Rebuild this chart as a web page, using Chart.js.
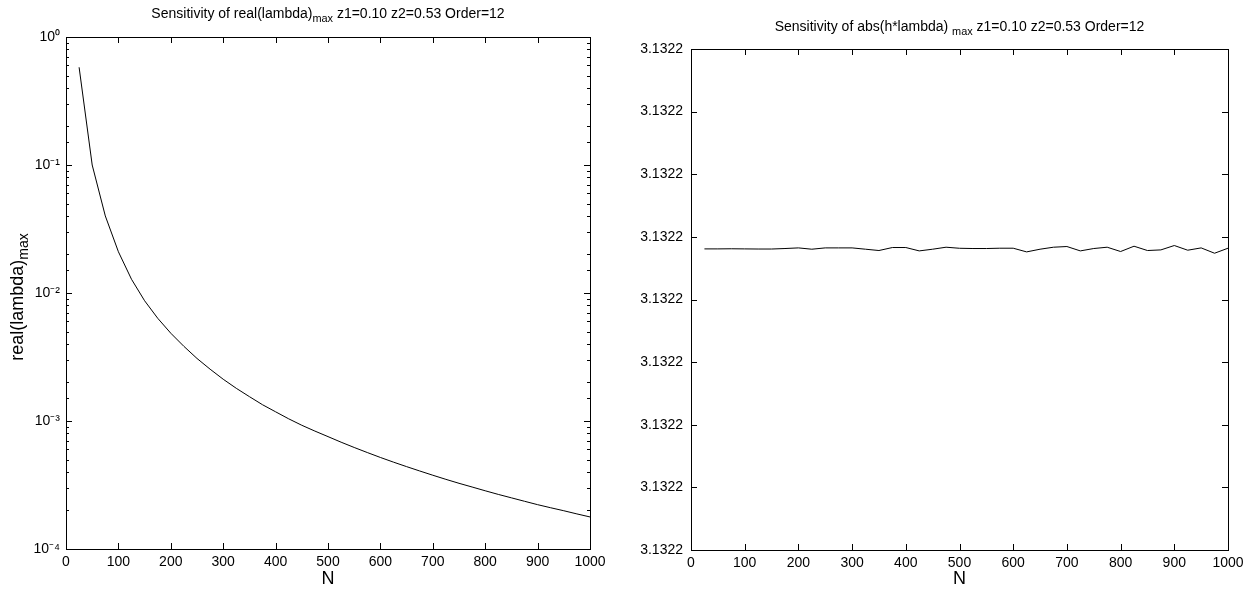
<!DOCTYPE html>
<html>
<head>
<meta charset="utf-8">
<script src="https://cdn.jsdelivr.net/npm/chart.js@4/dist/chart.umd.min.js"></script>
<style>
  body { margin: 0; background: #fff; }
  canvas { position: absolute; top: 0; }
  #realChart { left: 0; }
  #absChart { left: 628px; }
</style>
</head>
<body>
<canvas id="realChart" width="628" height="590"></canvas>
<canvas id="absChart" width="629" height="590"></canvas>
<script>
const FONT = '"Liberation Sans", Arial, Helvetica, sans-serif';

// grid sizes N
const nValues = [25, 50, 75, 100, 125, 150, 175, 200, 225, 250, 275, 300, 325, 350, 375, 400,
  425, 450, 475, 500, 525, 550, 575, 600, 625, 650, 675, 700, 725, 750, 775, 800,
  825, 850, 875, 900, 925, 950, 975, 1000];

// largest real part of the eigenvalues
const realLambdaMax = [0.58, 0.100, 0.0400, 0.0210, 0.0128, 0.00870, 0.00635, 0.00485, 0.00383, 0.00308,
  0.00254, 0.00212, 0.00180, 0.00155, 0.00134, 0.00118, 0.00104, 0.000926, 0.000834, 0.000755,
  0.000683, 0.000621, 0.000567, 0.000519, 0.000477, 0.000440, 0.000407, 0.000377, 0.000350, 0.000326,
  0.000305, 0.000285, 0.000267, 0.000251, 0.000236, 0.000222, 0.000210, 0.000199, 0.000188, 0.000178];

// largest |h*lambda|
const absHLambdaMax = [3.132214808, 3.132214808, 3.132214810, 3.132214808, 3.132214806,
  3.132214806, 3.132214814, 3.132214824, 3.132214803, 3.132214824, 3.132214824, 3.132214824,
  3.132214803, 3.132214782, 3.132214830, 3.132214830, 3.132214776, 3.132214803, 3.132214835,
  3.132214818, 3.132214814, 3.132214814, 3.132214819, 3.132214819, 3.132214760, 3.132214803,
  3.132214835, 3.132214846, 3.132214776, 3.132214814, 3.132214835, 3.132214766, 3.132214851,
  3.132214782, 3.132214792, 3.132214862, 3.132214787, 3.132214824, 3.132214739, 3.132214819];

const xTicks = [0, 100, 200, 300, 400, 500, 600, 700, 800, 900, 1000];
const absTicks = [3.132210, 3.132211, 3.132212, 3.132213, 3.132214, 3.132215, 3.132216, 3.132217, 3.132218];

const SUP = { '0': '\u2070', '1': '\u00b9', '2': '\u00b2', '3': '\u00b3', '4': '\u2074', '-': '\u207b' };
const isPow10 = v => Math.abs(Math.log10(v) - Math.round(Math.log10(v))) < 1e-9;
const powLabel = v => '10' + String(Math.round(Math.log10(v))).split('').map(c => SUP[c]).join('');

// frame box with inward tick marks on all four sides
const frameTicks = {
  id: 'frameTicks',
  afterDatasetsDraw(chart) {
    const { ctx, chartArea: a, scales } = chart;
    ctx.save();
    ctx.strokeStyle = '#000';
    ctx.lineWidth = 1;
    ctx.beginPath();
    scales.x.ticks.forEach(t => {
      const px = Math.round(scales.x.getPixelForValue(t.value)) + 0.5;
      if (px <= a.left + 2 || px >= a.right - 2) return;
      ctx.moveTo(px, a.bottom); ctx.lineTo(px, a.bottom - 6);
      ctx.moveTo(px, a.top); ctx.lineTo(px, a.top + 6);
    });
    const logY = scales.y.type === 'logarithmic';
    scales.y.ticks.forEach(t => {
      const py = Math.round(scales.y.getPixelForValue(t.value)) + 0.5;
      if (py <= a.top + 2 || py >= a.bottom - 2) return;
      const len = logY && !isPow10(t.value) ? 3 : 6;
      ctx.moveTo(a.left, py); ctx.lineTo(a.left + len, py);
      ctx.moveTo(a.right, py); ctx.lineTo(a.right - len, py);
    });
    ctx.stroke();
    ctx.strokeRect(Math.round(a.left) + 0.5, Math.round(a.top) + 0.5,
      Math.round(a.right - a.left), Math.round(a.bottom - a.top));
    ctx.restore();
  }
};

// text runs with "max" subscripts
function runsWidth(ctx, runs, size) {
  return runs.reduce((w, r) => {
    ctx.font = (r.sub ? size * 0.78 : size) + 'px ' + FONT;
    return w + ctx.measureText(r.text).width;
  }, 0);
}
function drawRuns(ctx, runs, cx, cy, size) {
  let x = cx - runsWidth(ctx, runs, size) / 2;
  ctx.textAlign = 'left';
  ctx.textBaseline = 'middle';
  ctx.fillStyle = '#000';
  runs.forEach(r => {
    ctx.font = (r.sub ? size * 0.78 : size) + 'px ' + FONT;
    ctx.fillText(r.text, x, r.sub ? cy + size * 0.35 : cy);
    x += ctx.measureText(r.text).width;
  });
}
const mathText = {
  id: 'mathText',
  afterDraw(chart, args, opts) {
    const { ctx, chartArea: a } = chart;
    ctx.save();
    drawRuns(ctx, opts.title, (a.left + a.right) / 2, opts.titleY, 14);
    if (opts.yTitle) {
      ctx.translate(opts.yTitleX, (a.top + a.bottom) / 2 + 4);
      ctx.rotate(-Math.PI / 2);
      drawRuns(ctx, opts.yTitle, 0, 0, 18);
    }
    ctx.restore();
  }
};

const tickFont = { family: FONT, size: 14 };

function xScale(height) {
  return {
    type: 'linear', min: 0, max: 1000,
    afterBuildTicks: s => { s.ticks = xTicks.map(v => ({ value: v })); },
    ticks: { color: '#000', font: tickFont, padding: 5, maxRotation: 0, autoSkip: false,
      callback: v => String(v) },
    grid: { display: false, drawTicks: false },
    border: { display: false },
    title: { display: true, text: 'N', color: '#000', font: { family: FONT, size: 18 }, padding: { top: 0, bottom: 0 } },
    afterFit: s => { s.height = height; }
  };
}

function lineSet(data) {
  return {
    data: nValues.map((n, i) => ({ x: n, y: data[i] })),
    borderColor: '#000', borderWidth: 1, pointRadius: 0, tension: 0, fill: false
  };
}

new Chart(document.getElementById('realChart'), {
  type: 'line',
  data: { datasets: [lineSet(realLambdaMax)] },
  options: {
    responsive: false, animation: false,
    layout: { padding: { top: 37, right: 38, left: 0, bottom: 0 } },
    plugins: {
      legend: { display: false }, tooltip: { enabled: false },
      mathText: {
        title: [{ text: 'Sensitivity of real(lambda)' }, { text: 'max', sub: true }, { text: ' z1=0.10 z2=0.53 Order=12' }],
        titleY: 14,
        yTitle: [{ text: 'real(lambda)' }, { text: 'max', sub: true }],
        yTitleX: 18
      }
    },
    scales: {
      x: xScale(41),
      y: {
        type: 'logarithmic', min: 1e-4, max: 1,
        ticks: { color: '#000', font: tickFont, padding: 6, autoSkip: false,
          callback: v => isPow10(v) ? powLabel(v) : '' },
        grid: { display: false, drawTicks: false },
        border: { display: false },
        afterFit: s => { s.width = 66; }
      }
    }
  },
  plugins: [frameTicks, mathText]
});

new Chart(document.getElementById('absChart'), {
  type: 'line',
  data: { datasets: [lineSet(absHLambdaMax)] },
  options: {
    responsive: false, animation: false,
    layout: { padding: { top: 49, right: 29, left: 0, bottom: 0 } },
    plugins: {
      legend: { display: false }, tooltip: { enabled: false },
      mathText: {
        title: [{ text: 'Sensitivity of abs(h*lambda) ' }, { text: 'max', sub: true }, { text: ' z1=0.10 z2=0.53 Order=12' }],
        titleY: 27
      }
    },
    scales: {
      x: xScale(40),
      y: {
        type: 'linear', min: absTicks[0], max: absTicks[absTicks.length - 1],
        afterBuildTicks: s => { s.ticks = absTicks.map(v => ({ value: v })); },
        ticks: { color: '#000', font: tickFont, padding: 8, autoSkip: false,
          callback: v => Number(v).toFixed(4) },
        grid: { display: false, drawTicks: false },
        border: { display: false },
        afterFit: s => { s.width = 63; }
      }
    }
  },
  plugins: [frameTicks, mathText]
});
</script>
</body>
</html>
